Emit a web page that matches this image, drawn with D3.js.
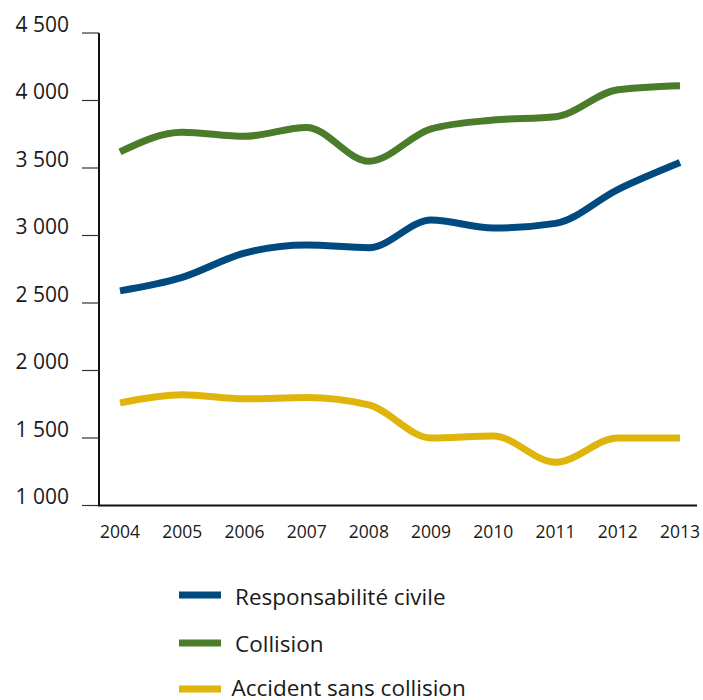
<!DOCTYPE html>
<html>
<head>
<meta charset="utf-8">
<script src="https://cdn.jsdelivr.net/npm/d3@7"></script>
<style>
	body{margin:0;background:#fff;}
	svg text{font-family:"Open Sans",sans-serif;fill:#1a1a1a;}
</style>
</head>
<body>
<svg id="chart" width="703" height="700"></svg>
<script>
var years = [2004,2005,2006,2007,2008,2009,2010,2011,2012,2013];
var responsabilite = [2590,2690,2870,2930,2910,3115,3055,3090,3340,3540];
var collision = [3620,3765,3735,3800,3550,3790,3855,3880,4080,4110];
var sansCollision = [1760,1820,1790,1800,1745,1500,1515,1320,1500,1500];
var yTicks = [1000,1500,2000,2500,3000,3500,4000,4500];
var seriesNames = ["Responsabilité civile","Collision","Accident sans collision"];
var seriesColors = ["#004a80","#4a7c2a","#e0b50b"];

var Chart = (function(){
	var svg = d3.select("#chart");
	var x, y;
	var fr = d3.formatLocale({decimal:",",thousands:"\u00a0",grouping:[3],currency:["","€"]});
	var fmt = fr.format(",d");

	var setup = function(){
		x = d3.scaleLinear().domain([2004,2013]).range([120,680]);
		y = d3.scaleLinear().domain([1000,4500]).range([505.5,33]);
	}

	var drawAxes = function(){
		var g = svg.append("g");
		// y axis with ticks on the left, labels sit above each tick
		g.append("line")
			.attr("x1",99).attr("x2",99)
			.attr("y1",y(4500)).attr("y2",y(1000))
			.attr("stroke","#111").attr("stroke-width",2);
		g.selectAll(".ytick").data(yTicks).enter().append("line")
			.attr("x1",82).attr("x2",99)
			.attr("y1",function(d){return y(d);})
			.attr("y2",function(d){return y(d);})
			.attr("stroke","#333").attr("stroke-width",1.2);
		g.selectAll(".ylab").data(yTicks).enter().append("text")
			.attr("x",69)
			.attr("y",function(d){return y(d)-1.5;})
			.attr("text-anchor","end")
			.attr("font-size",21)
			.text(function(d){return fmt(d);});
		// x axis
		g.append("line")
			.attr("x1",98).attr("x2",697)
			.attr("y1",y(1000)).attr("y2",y(1000))
			.attr("stroke","#111").attr("stroke-width",2);
		g.selectAll(".xlab").data(years).enter().append("text")
			.attr("x",function(d){return x(d);})
			.attr("y",538)
			.attr("text-anchor","middle")
			.attr("font-size",17.5)
			.text(function(d){return d;});
	}

	var drawLines = function(){
		var all = [responsabilite,collision,sansCollision];
		var line = d3.line()
			.x(function(d,i){return x(years[i]);})
			.y(function(d){return y(d);})
			.curve(d3.curveMonotoneX);
		svg.append("g").selectAll("path").data(all).enter().append("path")
			.attr("d",function(d){return line(d);})
			.attr("fill","none")
			.attr("stroke",function(d,i){return seriesColors[i];})
			.attr("stroke-width",7);
	}

	var drawLegend = function(){
		var ys = [595,643,689];
		var base = [604.5,652,696];
		var lg = svg.append("g");
		lg.selectAll("line").data(seriesNames).enter().append("line")
			.attr("x1",179).attr("x2",221)
			.attr("y1",function(d,i){return ys[i];})
			.attr("y2",function(d,i){return ys[i];})
			.attr("stroke",function(d,i){return seriesColors[i];})
			.attr("stroke-width",7);
		lg.selectAll("text").data(seriesNames).enter().append("text")
			.attr("x",function(d,i){return i==2 ? 231.5 : 235;})
			.attr("y",function(d,i){return base[i];})
			.attr("font-size",22.5)
			.text(function(d){return d;});
	}

	return {
		render : function(){
			setup();
			drawAxes();
			drawLines();
			drawLegend();
		}
	}
})();

Chart.render();
</script>
</body>
</html>
